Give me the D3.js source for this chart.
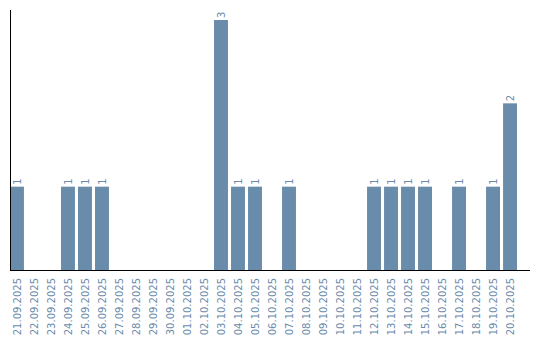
<!DOCTYPE html>
<html lang="en">
<head>
<meta charset="utf-8">
<title>Daily count</title>
<script src="https://cdn.jsdelivr.net/npm/d3@7"></script>
<style>
  body { margin: 0; background: #fff; }
  text { font-family: "DejaVu Sans", sans-serif; }
</style>
</head>
<body>
<div id="chart"></div>
<script>
var dates = ["21.09.2025","22.09.2025","23.09.2025","24.09.2025","25.09.2025","26.09.2025",
  "27.09.2025","28.09.2025","29.09.2025","30.09.2025","01.10.2025","02.10.2025",
  "03.10.2025","04.10.2025","05.10.2025","06.10.2025","07.10.2025","08.10.2025",
  "09.10.2025","10.10.2025","11.10.2025","12.10.2025","13.10.2025","14.10.2025",
  "15.10.2025","16.10.2025","17.10.2025","18.10.2025","19.10.2025","20.10.2025"]
var counts = [1,0,0,1,1,1,0,0,0,0,0,0,3,1,1,0,1,0,0,0,0,1,1,1,1,0,1,0,1,2]

var width = 540, height = 340
var color = "#6a8cab"

var x = d3.scaleBand()
  .domain(dates)
  .range([10, 517])
  .paddingInner(0.18)
  .paddingOuter(0)

var y = d3.scaleLinear()
  .domain([0, 3])
  .range([270, 20])

var svg = d3.select("#chart").append("svg")
  .attr("width", width)
  .attr("height", height)

var data = dates.map(function(d, i) { return {date: d, n: counts[i]} })

svg.selectAll("rect.bar")
  .data(data.filter(function(d) { return d.n > 0 }))
  .enter().append("rect")
  .attr("class", "bar")
  .attr("x", function(d) { return x(d.date) })
  .attr("y", function(d) { return y(d.n) })
  .attr("width", x.bandwidth())
  .attr("height", function(d) { return y(0) - y(d.n) })
  .attr("fill", color)

// value labels, rotated
svg.selectAll("text.val")
  .data(data.filter(function(d) { return d.n > 0 }))
  .enter().append("text")
  .attr("class", "val")
  .attr("transform", function(d) {
    return "translate(" + (x(d.date) + x.bandwidth() / 2 + 4) + "," + (y(d.n) - 2) + ") rotate(-90)"
  })
  .attr("font-size", 10)
  .attr("fill", color)
  .text(function(d) { return d.n })

// x labels
var xAxis = d3.axisBottom(x).tickSize(0).tickPadding(0)
var gx = svg.append("g")
  .attr("transform", "translate(0,270)")
  .call(xAxis)
gx.select(".domain").remove()
gx.selectAll("text")
  .attr("font-size", 10)
  .attr("font-family", "DejaVu Sans, sans-serif")
  .attr("fill", color)
  .attr("text-anchor", "end")
  .attr("dy", null)
  .attr("y", 0)
  .attr("transform", "translate(4,8) rotate(-90)")

// axis lines
svg.append("line")
  .attr("x1", 10.5).attr("x2", 10.5)
  .attr("y1", 10).attr("y2", 270)
  .attr("stroke", "#000").attr("stroke-width", 1)
svg.append("line")
  .attr("x1", 10).attr("x2", 530)
  .attr("y1", 270.5).attr("y2", 270.5)
  .attr("stroke", "#000").attr("stroke-width", 1)
</script>
</body>
</html>
